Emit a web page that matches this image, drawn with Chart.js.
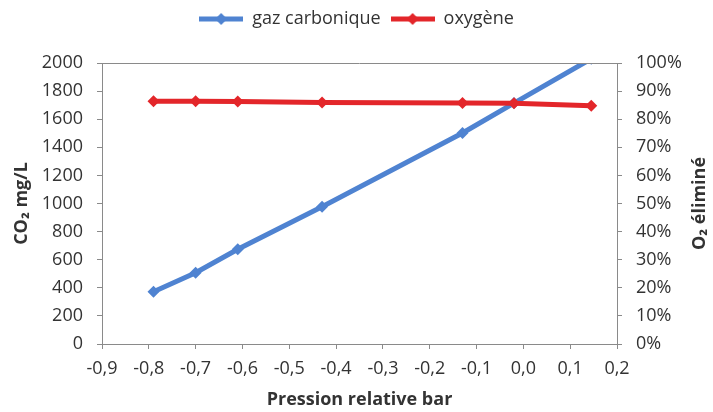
<!DOCTYPE html>
<html>
<head>
<meta charset="utf-8">
<script src="https://cdn.jsdelivr.net/npm/chart.js@4/dist/chart.umd.min.js"></script>
<style>
  html, body { margin: 0; padding: 0; background: #fff; }
  #wrap { width: 713px; height: 412px; }
</style>
</head>
<body>
<div id="wrap"><canvas id="chart"></canvas></div>
<script>
// valeurs
const pression = [-0.79, -0.70, -0.61, -0.43, -0.13, -0.02, 0.145];
const co2 = [372, 507, 674, 977, 1502, 1715, 2030];
const o2 = [86.4, 86.4, 86.3, 85.9, 85.8, 85.7, 84.8];

const xTicks = [-0.9, -0.8, -0.7, -0.6, -0.5, -0.4, -0.3, -0.2, -0.1, 0.0, 0.1, 0.2];
const co2Ticks = [0, 200, 400, 600, 800, 1000, 1200, 1400, 1600, 1800, 2000];
const pctTicks = [0, 10, 20, 30, 40, 50, 60, 70, 80, 90, 100];

const blue = '#4f83d1';
const red = '#e3262a';
const axisColor = '#8a8a8a';
const textColor = '#333333';
const fontFam = "'Open Sans', sans-serif";

// petit symbole de légende : trait + losange
function legendSymbol(color) {
    const c = document.createElement('canvas');
    c.width = 44; c.height = 14;
    const g = c.getContext('2d');
    g.strokeStyle = color;
    g.lineWidth = 5;
    g.beginPath(); g.moveTo(0, 7); g.lineTo(44, 7); g.stroke();
    g.fillStyle = color;
    g.beginPath(); g.moveTo(22, 1); g.lineTo(28, 7); g.lineTo(22, 13); g.lineTo(16, 7); g.closePath(); g.fill();
    return c;
}

const frame = {
    id: 'frame',
    beforeInit(chart) {
        const fit = chart.legend.fit;
        chart.legend.fit = function() { fit.call(this); this.height = 63; };
    },
    afterDraw(chart) {
        const a = chart.chartArea, ctx = chart.ctx;
        ctx.save();
        ctx.strokeStyle = axisColor;
        ctx.lineWidth = 1;
        ctx.beginPath();
        ctx.moveTo(a.left, Math.round(a.top) + 0.5);
        ctx.lineTo(a.right, Math.round(a.top) + 0.5);
        ctx.stroke();
        // titre de l'axe de droite, lu de bas en haut
        ctx.fillStyle = textColor;
        ctx.font = "bold 18px " + fontFam;
        ctx.textAlign = 'center';
        ctx.textBaseline = 'middle';
        ctx.translate(700, (a.top + a.bottom) / 2);
        ctx.rotate(-Math.PI / 2);
        ctx.fillText('O₂ éliminé', 0, 0);
        ctx.restore();
    }
};

const ticksFrom = arr => scale => { scale.ticks = arr.map(v => ({ value: v })); };

new Chart(document.getElementById('chart'), {
    type: 'line',
    data: {
        datasets: [{
            label: 'gaz carbonique',
            data: pression.map((x, i) => ({ x: x, y: co2[i] })),
            borderColor: blue,
            backgroundColor: blue,
            borderWidth: 5,
            pointStyle: 'rectRot',
            pointRadius: 6,
            pointBorderWidth: 0,
            yAxisID: 'y',
            order: 2,
            clip: { left: 10, right: 10, top: 0, bottom: 10 }
        }, {
            label: 'oxygène',
            data: pression.map((x, i) => ({ x: x, y: o2[i] })),
            borderColor: red,
            backgroundColor: red,
            borderWidth: 5,
            pointStyle: 'rectRot',
            pointRadius: 6,
            pointBorderWidth: 0,
            yAxisID: 'y1',
            order: 1
        }]
    },
    options: {
        responsive: true,
        maintainAspectRatio: false,
        animation: false,
        layout: { padding: 0 },
        plugins: {
            tooltip: { enabled: false },
            legend: {
                position: 'top',
                labels: {
                    usePointStyle: true,
                    pointStyleWidth: 44,
                    boxHeight: 14,
                    padding: 10,
                    color: textColor,
                    font: { family: fontFam, size: 18 },
                    generateLabels: chart => chart.data.datasets.map((ds, i) => ({
                        text: ds.label,
                        pointStyle: legendSymbol(ds.borderColor),
                        fontColor: textColor,
                        lineWidth: 0,
                        datasetIndex: i
                    }))
                }
            }
        },
        scales: {
            x: {
                type: 'linear',
                min: -0.9,
                max: 0.2,
                afterBuildTicks: ticksFrom(xTicks),
                afterFit: s => { s.height = 68; },
                grid: { drawOnChartArea: false, color: axisColor, tickLength: 5 },
                border: { color: axisColor },
                ticks: {
                    color: textColor,
                    padding: 9,
                    maxRotation: 0,
                    font: { family: fontFam, size: 18 },
                    callback: v => v.toFixed(1).replace('.', ',')
                },
                title: {
                    display: true,
                    text: 'Pression relative bar',
                    color: textColor,
                    font: { family: fontFam, size: 18, weight: 'bold' },
                    padding: { top: 4, bottom: 1 }
                }
            },
            y: {
                position: 'left',
                min: 0,
                max: 2000,
                afterBuildTicks: ticksFrom(co2Ticks),
                afterFit: s => { s.width = 102; },
                grid: { drawOnChartArea: false, color: axisColor, tickLength: 5 },
                border: { color: axisColor },
                ticks: {
                    color: textColor,
                    padding: 14,
                    font: { family: fontFam, size: 18 },
                    callback: v => String(v)
                },
                title: {
                    display: true,
                    text: 'CO₂ mg/L',
                    color: textColor,
                    font: { family: fontFam, size: 18, weight: 'bold' },
                    padding: { top: 11, bottom: 0 }
                }
            },
            y1: {
                position: 'right',
                min: 0,
                max: 100,
                afterBuildTicks: ticksFrom(pctTicks),
                afterFit: s => { s.width = 96; },
                grid: { drawOnChartArea: false, color: axisColor, tickLength: 5 },
                border: { color: axisColor },
                ticks: {
                    color: textColor,
                    padding: 14,
                    font: { family: fontFam, size: 18 },
                    callback: v => v + '%'
                }
            }
        }
    },
    plugins: [frame]
});
</script>
</body>
</html>
